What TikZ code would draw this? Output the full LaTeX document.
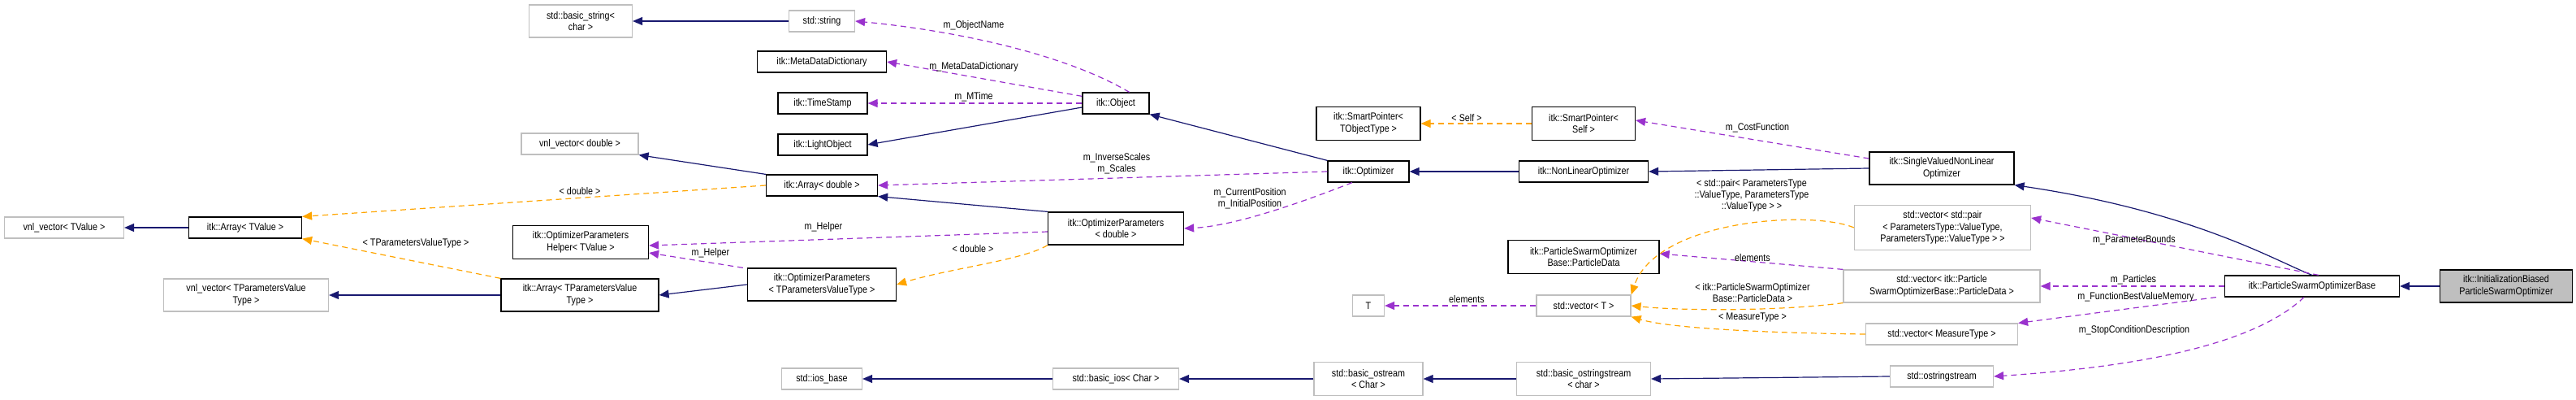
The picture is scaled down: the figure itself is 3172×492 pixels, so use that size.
\documentclass[tikz,border=0pt]{standalone}
\usepackage{fontspec}
\setmainfont{Liberation Sans}[FakeStretch=0.86]
\usetikzlibrary{arrows.meta}
\definecolor{inh}{HTML}{191970}
\definecolor{use}{HTML}{9A32CD}
\definecolor{tpl}{HTML}{FFA500}
\definecolor{undoc}{HTML}{BFBFBF}
\tikzset{
  cls/.style={draw=black, line width=1.2pt, fill=white, inner sep=1pt, align=center, font=\fontsize{12.5}{14.5}\selectfont},
  ucls/.style={cls, draw=undoc},
  inhe/.style={draw=inh, line width=1.2pt, -{Triangle[length=12pt,width=10pt]}},
  usee/.style={draw=use, line width=1.2pt, dash pattern=on 7pt off 5pt, -{Triangle[length=12pt,width=10pt]}},
  tple/.style={draw=tpl, line width=1.2pt, dash pattern=on 7pt off 5pt, -{Triangle[length=12pt,width=10pt]}},
  lbl/.style={inner sep=0pt, align=center, font=\fontsize{12.5}{14}\selectfont},
}
\newcommand{\bx}[6]{\node[#1, minimum width=#4pt, minimum height=#5pt] (#6) at (#2,#3) {#6txt};}
\begin{document}
\begin{tikzpicture}[x=1pt,y=-1pt]
\useasboundingbox (0,0) rectangle (3172,492);
% nodes
\node[ucls, minimum width=127pt, minimum height=40pt] (bstr) at (715,26) {std::basic\_string\textless\\char \textgreater};
\node[ucls, minimum width=144pt, minimum height=26pt] (vnld) at (714,177) {vnl\_vector\textless{} double \textgreater};
\node[ucls, minimum width=147pt, minimum height=26pt] (vnlt) at (79,280) {vnl\_vector\textless{} TValue \textgreater};
\node[cls, minimum width=139pt, minimum height=26pt] (arrt) at (302,280) {itk::Array\textless{} TValue \textgreater};
\node[cls, minimum width=167pt, minimum height=41pt] (helper) at (715,298) {itk::OptimizerParameters\\Helper\textless{} TValue \textgreater};
\node[ucls, minimum width=203pt, minimum height=40pt] (vnlp) at (303,363) {vnl\_vector\textless{} TParametersValue\\Type \textgreater};
\node[cls, minimum width=194pt, minimum height=40pt] (arrp) at (714,363) {itk::Array\textless{} TParametersValue\\Type \textgreater};
\node[ucls, minimum width=81pt, minimum height=26pt] (str) at (1012,26) {std::string};
\node[cls, minimum width=159pt, minimum height=26pt] (mdd) at (1012,76) {itk::MetaDataDictionary};
\node[cls, minimum width=110pt, minimum height=26pt] (ts) at (1013,127) {itk::TimeStamp};
\node[cls, minimum width=110pt, minimum height=26pt] (lo) at (1013,178) {itk::LightObject};
\node[cls, minimum width=82pt, minimum height=26pt] (obj) at (1374,127) {itk::Object};
\node[cls, minimum width=137pt, minimum height=26pt] (arrd) at (1012,228) {itk::Array\textless{} double \textgreater};
\node[cls, minimum width=167pt, minimum height=40pt] (opd) at (1374,281) {itk::OptimizerParameters\\\textless{} double \textgreater};
\node[cls, minimum width=183pt, minimum height=40pt] (opp) at (1012,350) {itk::OptimizerParameters\\\textless{} TParametersValueType \textgreater};
\node[ucls, minimum width=99pt, minimum height=26pt] (iosb) at (1012,466) {std::ios\_base};
\node[ucls, minimum width=155pt, minimum height=26pt] (bios) at (1374,466) {std::basic\_ios\textless{} Char \textgreater};
\node[cls, minimum width=128pt, minimum height=41pt] (spt) at (1685,152) {itk::SmartPointer\textless\\TObjectType \textgreater};
\node[cls, minimum width=127pt, minimum height=41pt] (sps) at (1950,152) {itk::SmartPointer\textless\\Self \textgreater};
\node[cls, minimum width=100pt, minimum height=26pt] (opt) at (1685,211) {itk::Optimizer};
\node[cls, minimum width=159pt, minimum height=26pt] (nlo) at (1950,211) {itk::NonLinearOptimizer};
\node[cls, minimum width=178pt, minimum height=40pt] (svo) at (2391,207) {itk::SingleValuedNonLinear\\Optimizer};
\node[ucls, minimum width=217pt, minimum height=55pt] (vpair) at (2392,280) {std::vector\textless{} std::pair\\\textless{} ParametersType::ValueType,\\ParametersType::ValueType \textgreater{} \textgreater};
\node[cls, minimum width=186pt, minimum height=41pt] (pdata) at (1950,316) {itk::ParticleSwarmOptimizer\\Base::ParticleData};
\node[ucls, minimum width=242pt, minimum height=40pt] (vpart) at (2391,352) {std::vector\textless{} itk::Particle\\SwarmOptimizerBase::ParticleData \textgreater};
\node[ucls, minimum width=39pt, minimum height=26pt] (tt) at (1685,376) {T};
\node[ucls, minimum width=116pt, minimum height=26pt] (vt) at (1950,376) {std::vector\textless{} T \textgreater};
\node[ucls, minimum width=187pt, minimum height=26pt] (vmeas) at (2391,411) {std::vector\textless{} MeasureType \textgreater};
\node[ucls, minimum width=134pt, minimum height=41pt] (bos) at (1685,466) {std::basic\_ostream\\\textless{} Char \textgreater};
\node[ucls, minimum width=165pt, minimum height=41pt] (boss) at (1950,466) {std::basic\_ostringstream\\\textless{} char \textgreater};
\node[ucls, minimum width=127pt, minimum height=26pt] (oss) at (2391,463) {std::ostringstream};
\node[cls, minimum width=215pt, minimum height=26pt] (psob) at (2847,352) {itk::ParticleSwarmOptimizerBase};
\node[cls, fill=undoc, minimum width=163pt, minimum height=40pt] (ibp) at (3086,352) {itk::InitializationBiased\\ParticleSwarmOptimizer};
% inheritance
\draw[inhe] (str.west) -- (bstr.east);
\draw[inhe] (obj.west|-1374,132) -- (lo.east);
\draw[inhe] (opt.north west) -- (obj.south east);
\draw[inhe] (arrd.north west) -- (vnld.south east);
\draw[inhe] (opd.north west) -- (arrd.south east);
\draw[inhe] (arrt.west) -- (vnlt.east);
\draw[inhe] (arrp.west) -- (vnlp.east);
\draw[inhe] (opp.west) -- (arrp.east);
\draw[inhe] (nlo.west) -- (opt.east);
\draw[inhe] (svo.west) -- (nlo.east);
\draw[inhe] (psob.north) .. controls (2800,320) and (2700,260) .. (svo.south east);
\draw[inhe] (ibp.west) -- (psob.east);
\draw[inhe] (bios.west) -- (iosb.east);
\draw[inhe] (bos.west) -- (bios.east);
\draw[inhe] (boss.west) -- (bos.east);
\draw[inhe] (oss.west) -- (boss.east);
% usage
\draw[usee] ([xshift=-25pt]obj.north east) .. controls (1300,60) and (1150,35) .. (str.east);
\draw[usee] ([yshift=-5pt]obj.north west) -- (mdd.east);
\draw[usee] (obj.west) -- (ts.east);
\draw[usee] (opt.west) -- (arrd.east);
\draw[usee] ([xshift=-20pt]opt.south) .. controls (1600,250) and (1520,278) .. (opd.east);
\draw[usee] ([yshift=-4pt]opd.west) -- ([yshift=-4pt]helper.east);
\draw[usee] ([xshift=-5pt]opp.north west) -- ([yshift=-13pt]helper.east);
\draw[usee] (svo.west|-2302,195) -- ([yshift=4pt]sps.east);
\draw[usee] (vpart.north west) -- ([yshift=4pt]pdata.east);
\draw[usee] (vt.west) -- (tt.east);
\draw[usee] ([xshift=-100pt]psob.north east) -- ([yshift=12pt]vpair.east);
\draw[usee] (psob.west) -- (vpart.east);
\draw[usee] ([xshift=-10pt]psob.south west) -- (vmeas.north east);
\draw[usee] ([xshift=-10pt]psob.south) .. controls (2780,420) and (2650,450) .. (oss.east);
% template
\draw[tple] (arrd.west) -- (arrt.north east);
\draw[tple] (arrp.north west) -- (arrt.south east);
\draw[tple] (opd.south west) .. controls (1260,320) and (1170,330) .. (opp.east);
\draw[tple] (sps.west) -- (spt.east);
\draw[tple] (vpair.west) .. controls (2230,258) and (2040,270) .. (vt.north east);
\draw[tple] (vpart.south west) .. controls (2200,382) and (2080,383) .. (vt.east);
\draw[tple] (vmeas.west) .. controls (2200,410) and (2060,405) .. (vt.south east);
% labels
\node[lbl] at (714,235) {\textless{} double \textgreater};
\node[lbl] at (512,299) {\textless{} TParametersValueType \textgreater};
\node[lbl] at (1199,31) {m\_ObjectName};
\node[lbl] at (1199,82) {m\_MetaDataDictionary};
\node[lbl] at (1199,119) {m\_MTime};
\node[lbl] at (1375,201) {m\_InverseScales\\m\_Scales};
\node[lbl] at (1539,244) {m\_CurrentPosition\\m\_InitialPosition};
\node[lbl] at (1014,279) {m\_Helper};
\node[lbl] at (875,311) {m\_Helper};
\node[lbl] at (1198,306) {\textless{} double \textgreater};
\node[lbl] at (1806,145) {\textless{} Self \textgreater};
\node[lbl] at (2164,157) {m\_CostFunction};
\node[lbl] at (2157,240) {\textless{} std::pair\textless{} ParametersType\\::ValueType, ParametersType\\::ValueType \textgreater{} \textgreater};
\node[lbl] at (2158,317) {elements};
\node[lbl] at (2158,360) {\textless{} itk::ParticleSwarmOptimizer\\Base::ParticleData \textgreater};
\node[lbl] at (1806,368) {elements};
\node[lbl] at (2158,390) {\textless{} MeasureType \textgreater};
\node[lbl] at (2628,295) {m\_ParameterBounds};
\node[lbl] at (2627,344) {m\_Particles};
\node[lbl] at (2630,365) {m\_FunctionBestValueMemory};
\node[lbl] at (2628,406) {m\_StopConditionDescription};
\end{tikzpicture}
\end{document}
